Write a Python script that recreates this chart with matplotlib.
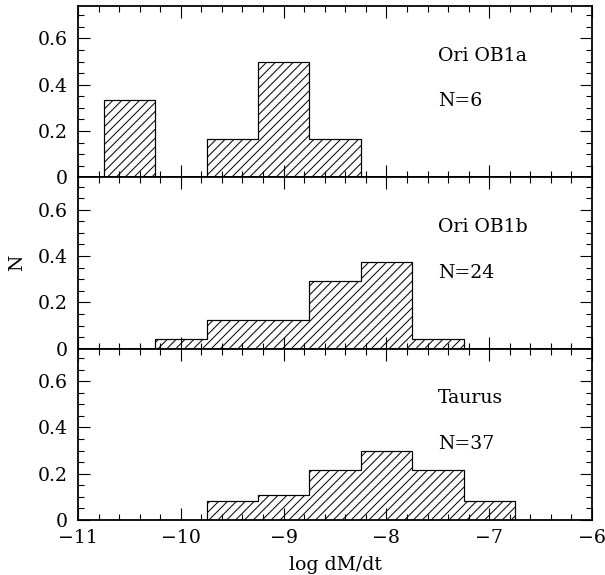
import matplotlib
matplotlib.use('Agg')
import matplotlib.pyplot as plt
from matplotlib.ticker import MultipleLocator

# bin edges of log dM/dt, shared by all three histograms
edges = [-10.75, -10.25, -9.75, -9.25, -8.75, -8.25, -7.75, -7.25, -6.75]

ob1a = [0.333, 0.0, 0.167, 0.5, 0.167, 0.0, 0.0, 0.0]
ob1b = [0.0, 0.042, 0.125, 0.125, 0.292, 0.375, 0.042, 0.0]
taurus = [0.0, 0.0, 0.081, 0.108, 0.216, 0.297, 0.216, 0.081]

names = ['Ori OB1a', 'Ori OB1b', 'Taurus']
counts = ['N=6', 'N=24', 'N=37']
xticks = [-11, -10, -9, -8, -7, -6]

plt.rcParams['font.family'] = 'DejaVu Serif'
plt.rcParams['font.size'] = 17
plt.rcParams['hatch.linewidth'] = 0.9

DPI = 80
fig, axes = plt.subplots(3, 1, sharex=True, figsize=(605 / DPI, 575 / DPI), dpi=DPI)
fig.subplots_adjust(left=78 / 605, right=592 / 605, top=1 - 6 / 575,
                    bottom=1 - 520 / 575, hspace=0)

for ax, vals, name, n in zip(axes, [ob1a, ob1b, taurus], names, counts):
    ax.stairs(vals, edges, fill=True, hatch='///', facecolor='none',
              edgecolor='black', linewidth=1.1)
    ax.set_xlim(-11, -6)
    ax.set_ylim(0, 0.74)
    ax.xaxis.set_major_locator(MultipleLocator(1))
    ax.xaxis.set_minor_locator(MultipleLocator(0.2))
    ax.yaxis.set_major_locator(MultipleLocator(0.2))
    ax.yaxis.set_minor_locator(MultipleLocator(0.05))
    ax.yaxis.set_major_formatter(lambda v, p: '0' if abs(v) < 1e-9 else '%.1f' % v)
    ax.tick_params(which='both', direction='in', top=True, right=True, width=1)
    ax.tick_params(which='major', length=11)
    ax.tick_params(which='minor', length=5)
    ax.tick_params(axis='y', pad=9)
    ax.tick_params(axis='x', pad=8)
    for s in ax.spines.values():
        s.set_linewidth(1.6)
    ax.text(0.70, 0.71, name, transform=ax.transAxes, ha='left', va='center')
    ax.text(0.70, 0.443, n, transform=ax.transAxes, ha='left', va='center')

axes[-1].set_xticks(xticks)
axes[-1].set_xticklabels(['\u2212%d' % abs(t) for t in xticks])
axes[-1].set_xlabel('log dM/dt', labelpad=8)
axes[1].set_ylabel('N', labelpad=11)

fig.savefig('out.png', dpi=DPI)
